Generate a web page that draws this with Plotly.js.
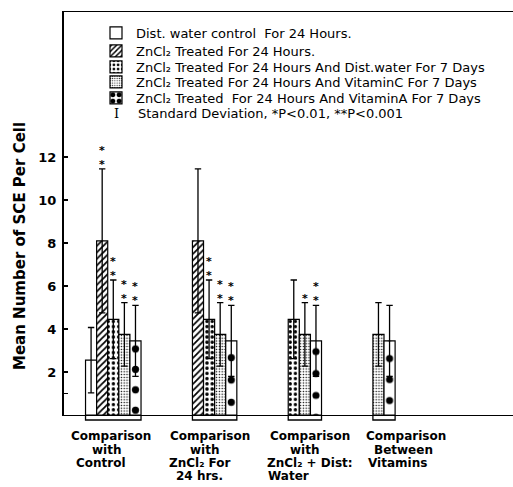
<!DOCTYPE html>
<html>
<head>
<meta charset="utf-8">
<script src="https://cdn.plot.ly/plotly-3.0.1.min.js"></script>
<style>
html,body{margin:0;padding:0;background:#fff;}
#chart{width:513px;height:487px;}
</style>
</head>
<body>
<div id="chart"></div>
<script>
// ---------------- DATA ----------------
const groupNames = [
  "Comparison with Control",
  "Comparison with ZnCl₂ For 24 hrs.",
  "Comparison with ZnCl₂ + Dist: Water",
  "Comparison Between Vitamins"
];
const groupLabelLines = [
  ["Comparison", "with", "Control"],
  ["Comparison", "with", "ZnCl₂ For", "24 hrs."],
  ["Comparison", "with", "ZnCl₂ + Dist:", "Water"],
  ["Comparison", "Between", "Vitamins"]
];
const seriesNames = [
  "Dist. water control  For 24 Hours.",
  "ZnCl₂ Treated For 24 Hours.",
  "ZnCl₂ Treated For 24 Hours And Dist.water For 7 Days",
  "ZnCl₂ Treated For 24 Hours And VitaminC For 7 Days",
  "ZnCl₂ Treated  For 24 Hours And VitaminA For 7 Days"
];
const sdLegendText = "Standard Deviation, *P&lt;0.01, **P&lt;0.001";

// mean number of SCE per cell, per group (null = not in that comparison)
const meanControl = [2.55, null, null, null];
const meanZnCl2   = [8.1, 8.1, null, null];
const meanZnWater = [4.45, 4.45, 4.45, null];
const meanVitC    = [3.75, 3.75, 3.75, 3.75];
const meanVitA    = [3.45, 3.45, 3.45, 3.45];

// standard deviations
const sdControl = [1.52, null, null, null];
const sdZnCl2   = [3.35, 3.35, null, null];
const sdZnWater = [1.83, 1.83, 1.83, null];
const sdVitC    = [1.48, 1.48, 1.48, 1.48];
const sdVitA    = [1.65, 1.65, 1.65, 1.65];

// significance marks
const sigControl = ["", "", "", ""];
const sigZnCl2   = ["**", "", "", ""];
const sigZnWater = ["**", "**", "", ""];
const sigVitC    = ["**", "**", "*", ""];
const sigVitA    = ["**", "**", "**", ""];

const yTickVals = [1, 2, 4, 6, 8, 10, 12];
const yTickText = ["", "2", "4", "6", "8", "10", "12"];

// ---------------- LAYOUT CONSTANTS ----------------
const W = 513, H = 487;
const PL = 64, PT = 12, PW = 449, PH = 403;
const SLOT = 11.1;              // px per bar
const XMAX = PW / SLOT;
const YMAX = PH / 21.5;
const LEAD = 1.94, GAP = 4.63;  // in bar widths
const FONT = "DejaVu Sans, Verdana, sans-serif";

const px2x = p => (p - PL) / PW;       // paper x
const py2y = p => (PT + PH - p) / PH;  // paper y

const means = [meanControl, meanZnCl2, meanZnWater, meanVitC, meanVitA];
const sds   = [sdControl, sdZnCl2, sdZnWater, sdVitC, sdVitA];
const sigs  = [sigControl, sigZnCl2, sigZnWater, sigVitC, sigVitA];

const nG = groupNames.length;
const counts = groupNames.map((_, g) => means.filter(m => m[g] !== null).length);
const starts = [];
let acc = LEAD;
for (let g = 0; g < nG; g++) { starts.push(acc); acc += counts[g] + GAP; }

const patterns = [
  {shape: "", fgcolor: "#000", bgcolor: "#fff"},
  {shape: "/", size: 4.6, solidity: 0.38, fgcolor: "#000", bgcolor: "#fff"},
  {shape: ".", size: 5.2, solidity: 0.34, fgcolor: "#000", bgcolor: "#fff"},
  {shape: ".", size: 2.8, solidity: 0.22, fgcolor: "#000", bgcolor: "#fff"},
  null // vitamin A: large ovals, computed per bar below
];
const legendY = [33, 51, 67, 82, 98];

const traces = [];
const annotations = [];
means.forEach((m, i) => {
  const xs = [], ys = [], es = [];
  groupNames.forEach((_, g) => {
    if (m[g] === null) return;
    let slot = 0;
    for (let j = 0; j < i; j++) if (means[j][g] !== null) slot++;
    const xc = starts[g] + slot + 0.5;
    xs.push(xc); ys.push(m[g]); es.push(sds[i][g]);
    if (sigs[i][g]) {
      annotations.push({
        x: xc, y: m[g] + sds[i][g], xref: "x", yref: "y",
        text: sigs[i][g].split("").join("<br>"),
        showarrow: false, yanchor: "bottom", yshift: -4,
        font: {family: FONT, size: 11, color: "#000", weight: "bold"}
      });
    }
  });
  let pat = patterns[i];
  if (pat === null) {
    // big dark dots aligned to the centre of each bar
    const sizes = xs.map(xc => {
      const c = xc * SLOT;
      const k = Math.max(0, Math.round(c / 21 - 0.5));
      return c / (k + 0.5);
    });
    pat = {shape: ".", size: sizes, solidity: sizes.map(s => 40 / (s * s)), fgcolor: "#000", bgcolor: "#fff"};
  }
  traces.push({
    type: "bar", x: xs, y: ys, width: 1, name: seriesNames[i],
    legend: i === 0 ? "legend" : "legend" + (i + 1),
    marker: {color: "#fff", line: {color: "#000", width: 1.2}, pattern: pat},
    error_y: {type: "data", array: es, visible: true, color: "#000", thickness: 1.3, width: 3.2},
    hoverinfo: "skip"
  });
});

// group labels
const lineShift = [
  [-2, -7, -12],
  [-5, -10, -15, -15],
  [5, 0, 5, -39],
  [22, 19, 13]
];
groupLabelLines.forEach((lines, g) => {
  const xc = starts[g] + counts[g] / 2;
  lines.forEach((t, k) => {
    const leftAlign = (g === 2 && k === 3);
    annotations.push({
      x: xc, xref: "x", y: py2y(427.5 + 13 * k), yref: "paper",
      text: t, showarrow: false, yanchor: "top",
      xanchor: leftAlign ? "left" : "center", xshift: lineShift[g][k],
      font: {family: FONT, size: 12, color: "#000", weight: "bold"}
    });
  });
});

// SD legend row
annotations.push({
  x: px2x(116), xref: "paper", y: py2y(114), yref: "paper", text: "I",
  showarrow: false, xanchor: "center", yanchor: "middle",
  font: {family: "DejaVu Serif, serif", size: 13, color: "#000"}
});
annotations.push({
  x: px2x(136), xref: "paper", y: py2y(114), yref: "paper", text: sdLegendText,
  showarrow: false, xanchor: "left", yanchor: "middle",
  font: {family: FONT, size: 13, color: "#000"}
});

// y axis title
annotations.push({
  x: px2x(20), xref: "paper", y: py2y(246), yref: "paper",
  text: "Mean Number of SCE Per Cell", textangle: -90, showarrow: false,
  xanchor: "center", yanchor: "middle",
  font: {family: FONT, size: 15, color: "#000", weight: "bold"}
});

// brackets under each group
const shapes = groupNames.map((_, g) => {
  const x0 = starts[g], x1 = starts[g] + counts[g];
  const yb = py2y(420), yt = py2y(416);
  return {
    type: "path", xref: "x", yref: "paper",
    path: `M${x0},${yt} L${x0},${yb} L${x1},${yb} L${x1},${yt}`,
    line: {color: "#000", width: 1.3}
  };
});

const layout = {
  width: W, height: H,
  margin: {l: PL, r: W - PL - PW, t: PT, b: H - PT - PH, autoexpand: false},
  paper_bgcolor: "#fff", plot_bgcolor: "#fff",
  barmode: "overlay",
  showlegend: true,
  xaxis: {
    range: [0, XMAX], showgrid: false, zeroline: false, showticklabels: false, ticks: "",
    showline: true, linecolor: "#000", linewidth: 1.3, mirror: true, fixedrange: true
  },
  yaxis: {
    range: [0, YMAX], showgrid: false, zeroline: false,
    tickvals: yTickVals, ticktext: yTickText, ticks: "inside", ticklen: 4, tickwidth: 1.5,
    tickcolor: "#000", ticklabelstandoff: 3,
    tickfont: {family: FONT, size: 13, color: "#000", weight: "bold"},
    showline: true, linecolor: "#000", linewidth: 2, mirror: false, fixedrange: true
  },
  annotations: annotations,
  shapes: shapes
};
seriesNames.forEach((_, i) => {
  const key = i === 0 ? "legend" : "legend" + (i + 1);
  layout[key] = {
    x: px2x(96), xanchor: "left", y: py2y(legendY[i]), yanchor: "middle",
    bgcolor: "rgba(0,0,0,0)", borderwidth: 0,
    font: {family: FONT, size: 13, color: "#000"}
  };
});

Plotly.newPlot("chart", traces, layout, {displayModeBar: false, staticPlot: true});
</script>
</body>
</html>
